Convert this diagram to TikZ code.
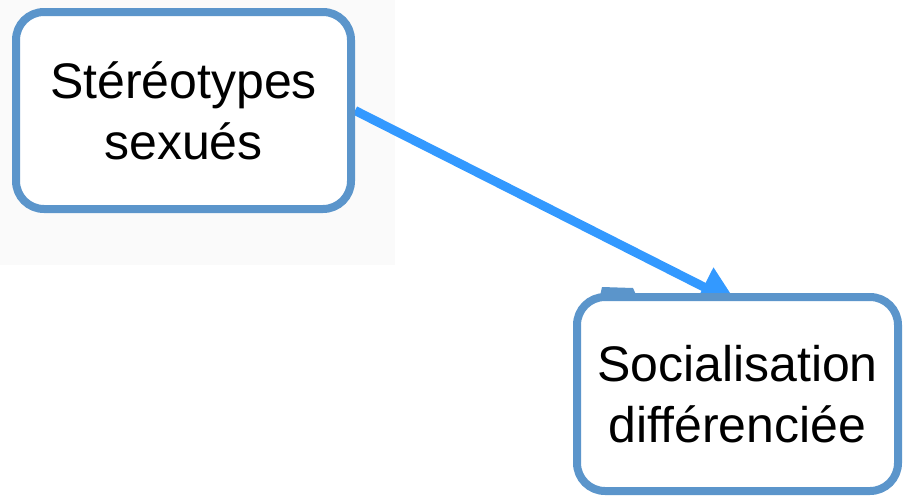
\documentclass[tikz,border=0pt]{standalone}
\usepackage{fontspec}
\setmainfont{Liberation Sans}
\usetikzlibrary{arrows.meta,shadows,calc}
\definecolor{boxblue}{RGB}{91,149,203}
\definecolor{arrblue}{RGB}{51,153,255}
\definecolor{faint}{RGB}{250,250,250}
\pgfdeclarelayer{background}
\pgfsetlayers{background,main}
\tikzset{
  conceptbox/.style={draw=boxblue, line width=8pt, fill=white, rounded corners=28pt,
    align=center, inner sep=0pt, font=\fontsize{50}{61}\selectfont,
    drop shadow={shadow xshift=2pt, shadow yshift=-3pt, opacity=0.35, fill=black!60}},
  arrowline/.style={draw=arrblue, line width=9pt, -{Triangle[width=41pt,length=38pt]}}
}
\begin{document}
\begin{tikzpicture}[x=1pt,y=-1pt]
  \useasboundingbox (0,0) rectangle (903,501);
  \node[conceptbox, minimum width=335pt, minimum height=197pt] (b1) at (183.5,110.5) {Stéréotypes\\sexués};
  \node[conceptbox, minimum width=321pt, minimum height=194pt] (b2) at (737.5,394) {Socialisation\\différenciée};
  \begin{pgfonlayer}{background}
    \fill[faint] (0,0) rectangle (395,265);
    \draw[arrowline] (b1.east) -- ($(b2.north)+(0,11)$);
  \end{pgfonlayer}
  \fill[boxblue] (602,287) -- (633,288) -- (637,297) -- (600,296) -- cycle;
\end{tikzpicture}
\end{document}
